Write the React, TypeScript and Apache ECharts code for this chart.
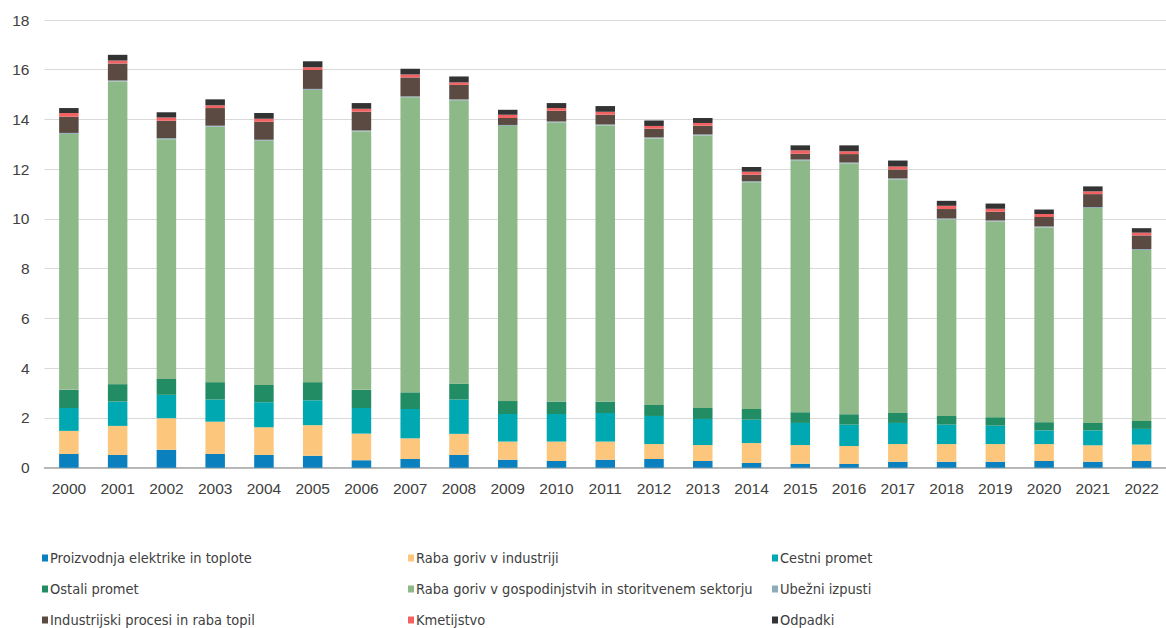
import React, { useEffect, useRef } from "react";
import * as echarts from "echarts";

const years = ["2000","2001","2002","2003","2004","2005","2006","2007","2008","2009","2010","2011","2012","2013","2014","2015","2016","2017","2018","2019","2020","2021","2022"];

const proizvodnja = [0.55,0.51,0.72,0.55,0.51,0.48,0.30,0.35,0.51,0.32,0.27,0.32,0.35,0.27,0.19,0.16,0.15,0.24,0.24,0.24,0.27,0.24,0.27];
const industrija = [0.93,1.17,1.27,1.30,1.12,1.23,1.07,0.83,0.85,0.73,0.78,0.73,0.60,0.64,0.80,0.75,0.72,0.71,0.71,0.71,0.68,0.66,0.66];
const cestni = [0.92,0.98,0.94,0.89,1.00,1.00,1.03,1.18,1.38,1.11,1.11,1.15,1.13,1.05,0.94,0.89,0.86,0.85,0.78,0.74,0.55,0.60,0.63];
const ostali = [0.73,0.70,0.64,0.70,0.70,0.73,0.73,0.67,0.64,0.52,0.50,0.46,0.44,0.44,0.43,0.43,0.42,0.40,0.35,0.34,0.33,0.30,0.32];
const gospodinjstva = [10.29,12.17,9.64,10.27,9.82,11.75,10.39,11.86,11.39,11.06,11.22,11.10,10.72,10.96,9.12,10.12,10.08,9.39,7.90,7.87,7.83,8.64,6.87];
const ubezni = [0.04,0.04,0.04,0.04,0.04,0.04,0.04,0.04,0.04,0.04,0.04,0.04,0.04,0.04,0.04,0.04,0.04,0.04,0.04,0.04,0.04,0.04,0.04];
const procesi = [0.65,0.68,0.70,0.71,0.72,0.76,0.75,0.76,0.58,0.28,0.43,0.39,0.35,0.35,0.26,0.23,0.34,0.36,0.38,0.35,0.38,0.52,0.55];
const kmetijstvo = [0.15,0.12,0.13,0.11,0.12,0.11,0.12,0.12,0.10,0.13,0.11,0.12,0.11,0.11,0.12,0.14,0.11,0.12,0.13,0.12,0.12,0.11,0.11];
const odpadki = [0.20,0.23,0.21,0.24,0.23,0.24,0.23,0.23,0.24,0.20,0.20,0.23,0.22,0.20,0.19,0.20,0.24,0.24,0.20,0.21,0.18,0.20,0.18];

const yTicks = { min: 0, max: 18, interval: 2 };

const seriesDefs = [
  { name: "Proizvodnja elektrike in toplote", data: proizvodnja, color: "#0a80bf" },
  { name: "Raba goriv v industriji", data: industrija, color: "#fcc77c" },
  { name: "Cestni promet", data: cestni, color: "#00a9b1" },
  { name: "Ostali promet", data: ostali, color: "#228c64" },
  { name: "Raba goriv v gospodinjstvih in storitvenem sektorju", data: gospodinjstva, color: "#8cb987" },
  { name: "Ubežni izpusti", data: ubezni, color: "#8eacb9" },
  { name: "Industrijski procesi in raba topil", data: procesi, color: "#5b4a41" },
  { name: "Kmetijstvo", data: kmetijstvo, color: "#f26262" },
  { name: "Odpadki", data: odpadki, color: "#333333" },
];

// legend grid: series order fills 3 columns row by row
const legendColLeft = [42, 408, 772];
const legendRowTop = [550, 581, 612];

export default function App() {
  const ref = useRef<HTMLDivElement>(null);
  useEffect(() => {
    if (!ref.current) return;
    const chart = echarts.init(ref.current, null, { renderer: "svg" });
    chart.setOption({
      animation: false,
      backgroundColor: "#ffffff",
      grid: { left: 44.5, top: 20, width: 1125.3, height: 447.7, containLabel: false },
      legend: seriesDefs.map((s, i) => ({
        data: [s.name],
        orient: "horizontal",
        left: legendColLeft[i % 3],
        top: legendRowTop[Math.floor(i / 3)],
        padding: 0,
        itemWidth: 6,
        itemHeight: 7,
        icon: "rect",
        selectedMode: false,
        textStyle: {
          fontFamily: "'DejaVu Sans Condensed', 'Liberation Sans', sans-serif",
          fontSize: 14.5,
          color: "#404040",
          lineHeight: 16,
          padding: [0, 0, 0, -3],
        },
      })),
      xAxis: {
        type: "category",
        data: years,
        axisLine: { show: true, lineStyle: { color: "#a6a6a6", width: 1.5 } },
        axisTick: { show: false },
        axisLabel: { fontFamily: "Liberation Sans", fontSize: 15.5, color: "#404040", margin: 13 },
      },
      yAxis: {
        type: "value",
        min: yTicks.min,
        max: yTicks.max,
        interval: yTicks.interval,
        axisLine: { show: false },
        axisTick: { show: false },
        splitLine: { lineStyle: { color: "#d9d9d9", width: 1 } },
        axisLabel: { fontFamily: "Liberation Sans", fontSize: 15.5, color: "#404040", margin: 15 },
      },
      series: seriesDefs.map((s) => ({
        name: s.name,
        type: "bar",
        stack: "total",
        data: s.data,
        barWidth: "40%",
        itemStyle: { color: s.color },
        emphasis: { disabled: true },
      })),
    });
    return () => chart.dispose();
  }, []);
  return <div ref={ref} style={{ position: "fixed", left: 0, top: 0, width: 1166, height: 628 }} />;
}
